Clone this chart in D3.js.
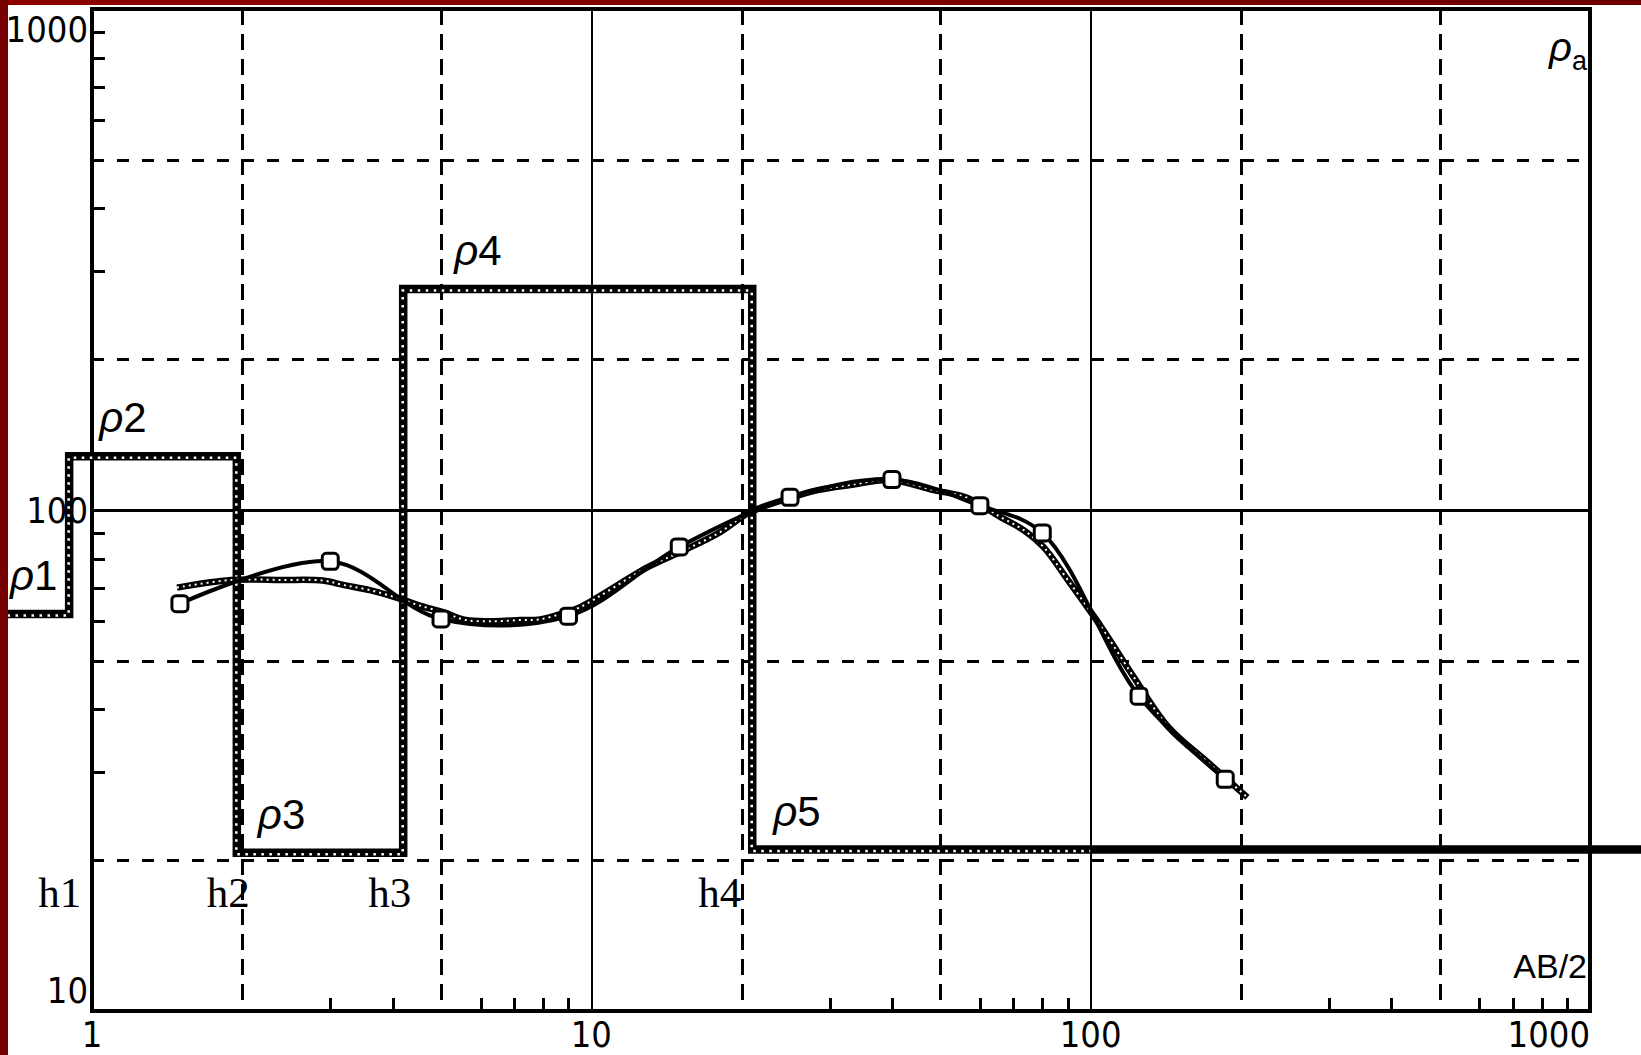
<!DOCTYPE html>
<html>
<head>
<meta charset="utf-8">
<script src="https://cdn.jsdelivr.net/npm/d3@7"></script>
<style>
  html, body { margin: 0; padding: 0; background: #fff; }
  svg { display: block; }
  .grid line { stroke: #000; stroke-width: 3; shape-rendering: crispEdges; }
  .grid.solid line { stroke-width: 2.5; }
  .grid.dash-v line { stroke-dasharray: 16, 9; }
  .grid.dash-h line { stroke-dasharray: 12, 13; }
  .ticks line { stroke: #000; stroke-width: 3; shape-rendering: crispEdges; }
  .tick-label { font-family: "Liberation Sans Narrow", "DejaVu Sans Condensed", sans-serif; font-size: 36px; fill: #000; }
  .layer-label { font-family: "Liberation Sans", Arial, sans-serif; font-size: 42px; fill: #000; }
  .depth-label { font-family: "Liberation Serif", "Times New Roman", serif; font-size: 43px; fill: #000; }
  .axis-title { font-family: "Liberation Sans", Arial, sans-serif; fill: #000; }
</style>
</head>
<body>
<div id="plot"></div>
<script>
d3 = window.d3;

// layered earth model
var depths = [0.9, 1.95, 4.2, 21];
var layerRho = [62, 128, 20.7, 276, 21];
var layerNames = ["1", "2", "3", "4", "5"];
var depthNames = ["h1", "h2", "h3", "h4"];

// field sounding (AB/2, apparent resistivity)
var obsAB  = [1.5, 3, 5, 9, 15, 25, 40, 60, 80, 125, 186];
var obsRho = [65, 79, 60.6, 61.4, 84.4, 106, 115, 102, 90, 42.5, 29];

// computed curve of the model
var calcAB  = [1.48, 1.9, 2.4, 2.9, 3.2, 3.6, 4.1, 4.5, 5.1, 5.6, 6.4, 7.2, 7.9, 8.8, 9.5, 13, 15.3, 18, 20.8, 25, 28.4, 33, 39.7, 48.5, 56.7, 66, 73.4, 80.5, 90, 105, 122, 143, 172, 206];
var calcRho = [70, 72.5, 72.5, 72.3, 70.8, 69.2, 66.7, 64.6, 62.3, 60.3, 60, 60.3, 60.5, 62.3, 64, 77, 83, 90, 99, 105.7, 109.6, 112.2, 114.8, 109.6, 105.7, 96.8, 91.2, 84.3, 72.5, 58.4, 46.4, 36.9, 31.3, 26.7];

// axes
var xTickLabels = [1, 10, 100, 1000];
var yTickLabels = [10, 100, 1000];
var xSolid = [10, 100];
var xDash = [2, 5, 20, 50, 200, 500];
var ySolid = [100];
var yDash = [20, 50, 200, 500];

// label nudges (px)
var layerLabelDx = [0, 30, 21, 51, 21];
var depthLabelDx = [12, 13, 8, -11];

var W = 1641, H = 1055;
var margin = {top: 9, right: 51, bottom: 44, left: 92},
    width = W - margin.left - margin.right,
    height = H - margin.top - margin.bottom;

var svg = d3.select("#plot")
  .append("svg")
  .attr("width", W)
  .attr("height", H);

svg.append("rect").attr("width", W).attr("height", H).attr("fill", "#fff");

var g = svg.append("g")
  .attr("transform", "translate(" + margin.left + "," + margin.top + ")");

var x = d3.scaleLog().domain([1, 1000]).range([0, width]);
var y = d3.scaleLog().domain([10, 1000]).range([height, 0]);

function lead(v) {
  return Math.round(v / Math.pow(10, Math.floor(Math.log10(v) + 1e-9)));
}
var minorX = x.ticks().filter(function(d) { return [1, 2, 5].indexOf(lead(d)) < 0; });
var minorY = y.ticks().filter(function(d) { return [1, 2, 5].indexOf(lead(d)) < 0; });

function noDomain(sel) { sel.select(".domain").remove(); }

// gridlines
g.append("g").attr("class", "grid dash-v")
  .call(d3.axisTop(x).tickValues(xDash).tickSize(-height).tickFormat(""))
  .call(noDomain);
g.append("g").attr("class", "grid dash-h")
  .call(d3.axisLeft(y).tickValues(yDash).tickSize(-width).tickFormat(""))
  .call(noDomain);
g.append("g").attr("class", "grid solid")
  .call(d3.axisTop(x).tickValues(xSolid).tickSize(-height).tickFormat(""))
  .call(noDomain);
g.append("g").attr("class", "grid solid")
  .call(d3.axisLeft(y).tickValues(ySolid).tickSize(-width).tickFormat(""))
  .call(noDomain);

// minor ticks, pointing inward
g.append("g").attr("class", "ticks")
  .attr("transform", "translate(0," + height + ")")
  .call(d3.axisBottom(x).tickValues(minorX).tickSize(-13).tickFormat(""))
  .call(noDomain);
g.append("g").attr("class", "ticks")
  .call(d3.axisLeft(y).tickValues(minorY).tickSize(-13).tickFormat(""))
  .call(noDomain);

// frame
g.append("rect")
  .attr("width", width).attr("height", height)
  .attr("fill", "none").attr("stroke", "#000").attr("stroke-width", 3.5)
  .attr("shape-rendering", "crispEdges");

// tick labels
g.selectAll(".ylab").data(yTickLabels).enter().append("text")
  .attr("class", "tick-label")
  .attr("text-anchor", "end")
  .attr("x", -4)
  .attr("y", function(d, i) {
    if (i === yTickLabels.length - 1) return y(d) + 33;
    if (i === 0) return y(d) - 8;
    return y(d) + 13;
  })
  .text(function(d) { return d; });

g.selectAll(".xlab").data(xTickLabels).enter().append("text")
  .attr("class", "tick-label")
  .attr("text-anchor", function(d, i) { return i === xTickLabels.length - 1 ? "end" : "middle"; })
  .attr("x", function(d, i) { return i === xTickLabels.length - 1 ? width : x(d); })
  .attr("y", height + 36)
  .text(function(d) { return d; });

// layer model step line
var abLeft = x.invert(-margin.left), abRight = x.invert(W - margin.left);
var steps = [[abLeft, layerRho[0]]];
depths.forEach(function(h, i) {
  steps.push([h, layerRho[i]]);
  steps.push([h, layerRho[i + 1]]);
});
var dotted = steps.concat([[100, layerRho[layerRho.length - 1]]]);
steps.push([abRight, layerRho[layerRho.length - 1]]);

var line = d3.line()
  .x(function(d) { return x(d[0]); })
  .y(function(d) { return y(d[1]); });

g.append("path").attr("d", line(steps))
  .attr("fill", "none").attr("stroke", "#000").attr("stroke-width", 8.5)
  .attr("stroke-linejoin", "miter");
g.append("path").attr("d", line(dotted))
  .attr("transform", "translate(-0.5,1.5)")
  .attr("fill", "none").attr("stroke", "#fff").attr("stroke-width", 2.5)
  .attr("stroke-dasharray", "2.5,5.5");

// computed curve (chain)
var calc = calcAB.map(function(d, i) { return [d, calcRho[i]]; });
var smooth = d3.line()
  .x(function(d) { return x(d[0]); })
  .y(function(d) { return y(d[1]); })
  .curve(d3.curveCatmullRom.alpha(0.5));

g.append("path").attr("d", smooth(calc))
  .attr("fill", "none").attr("stroke", "#000").attr("stroke-width", 6.5);
g.append("path").attr("d", smooth(calc))
  .attr("fill", "none").attr("stroke", "#fff").attr("stroke-width", 2)
  .attr("stroke-dasharray", "2,4");

// field curve with markers
var obs = obsAB.map(function(d, i) { return [d, obsRho[i]]; });
g.append("path").attr("d", smooth(obs))
  .attr("fill", "none").attr("stroke", "#000").attr("stroke-width", 4);

g.selectAll(".pt").data(obs).enter().append("rect")
  .attr("x", function(d) { return x(d[0]) - 8; })
  .attr("y", function(d) { return y(d[1]) - 8; })
  .attr("width", 16).attr("height", 16).attr("rx", 4)
  .attr("fill", "#fff").attr("stroke", "#000").attr("stroke-width", 3);

// layer labels
var layerLeft = [null].concat(depths);
layerNames.forEach(function(n, i) {
  var tx = i === 0 ? 10 - margin.left : x(layerLeft[i]) + layerLabelDx[i];
  var t = g.append("text").attr("class", "layer-label")
    .attr("x", tx).attr("y", y(layerRho[i]) - 24);
  t.append("tspan").attr("font-style", "italic").text("ρ");
  t.append("tspan").text(n);
});

// depth labels
depthNames.forEach(function(n, i) {
  g.append("text").attr("class", "depth-label")
    .attr("text-anchor", "end")
    .attr("x", x(depths[i]) + depthLabelDx[i])
    .attr("y", 898)
    .text(n);
});

// axis titles
var rt = g.append("text").attr("class", "axis-title").attr("text-anchor", "end")
  .attr("x", width - 3).attr("y", 52);
rt.append("tspan").attr("font-size", 40).attr("font-style", "italic").text("ρ");
rt.append("tspan").attr("font-size", 27).attr("dy", 9).text("a");

g.append("text").attr("class", "axis-title").attr("text-anchor", "end")
  .attr("x", width - 3).attr("y", height - 33)
  .attr("font-size", 34)
  .text("AB/2");

// window border
var grad = svg.append("defs").append("linearGradient").attr("id", "bar");
grad.append("stop").attr("offset", "0%").attr("stop-color", "#8e0000");
grad.append("stop").attr("offset", "100%").attr("stop-color", "#6c0000");
svg.append("rect").attr("width", W).attr("height", 5).attr("fill", "url(#bar)");
svg.append("rect").attr("width", 8).attr("height", H).attr("fill", "#760000");
</script>
</body>
</html>
